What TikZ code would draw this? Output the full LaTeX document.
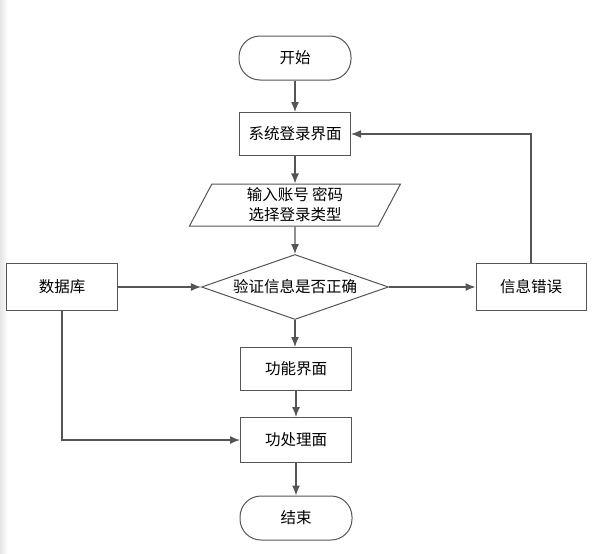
\documentclass[tikz,border=0pt]{standalone}
\usepackage{fontspec}
\newfontfamily\cjk{Noto Sans CJK SC}
\usetikzlibrary{arrows.meta,shapes.geometric}
\definecolor{linea}{HTML}{555555}
\begin{document}
\begin{tikzpicture}[x=1pt,y=-1pt,line width=1.3pt,>={Latex[length=10pt,width=8pt]},
  caja/.style={draw=linea,line width=1pt,fill=white,inner sep=0pt,minimum width=111pt,minimum height=43pt,font=\cjk\fontsize{15.5}{20}\selectfont},
  terminal/.style={caja,rounded corners=21pt,minimum width=112pt,minimum height=44pt},
  datosio/.style={caja,trapezium,trapezium left angle=57,trapezium right angle=123,trapezium stretches body,minimum width=211pt,minimum height=42pt,align=center},
  decision/.style={caja,diamond,aspect=2.9,minimum width=187pt,minimum height=65pt},
  flecha/.style={->,draw=linea,color=linea}]
  \useasboundingbox (0,0) rectangle (592,554);
  \shade[left color=black!10,right color=white] (0,0) rectangle (8,554);
  % flujo principal
  \node[terminal] (inicio) at (295,58) {开始};
  \node[caja] (login) at (295,134) {系统登录界面};
  \node[datosio] (entrada) at (295,205) {输入账号 密码\\选择登录类型};
  \node[decision] (valida) at (295,287) {验证信息是否正确};
  \node[caja,minimum height=47pt] (datos) at (62,287) {数据库};
  \node[caja,minimum width=110pt,minimum height=47pt] (error) at (531,287) {信息错误};
  \node[caja] (funcion) at (296,369) {功能界面};
  \node[caja,minimum height=45pt] (proceso) at (296,440) {功处理面};
  \node[terminal] (fin) at (296,518) {结束};
  % flechas
  \draw[flecha] (inicio) -- (login);
  \draw[flecha] (login) -- (entrada);
  \draw[flecha] (entrada) -- (valida);
  \draw[flecha] (datos) -- (valida);
  \draw[flecha] (valida) -- (error);
  \draw[flecha] (valida.south) -- (valida.south |- funcion.north);
  \draw[flecha] (funcion.south) -- (funcion.south |- proceso.north);
  \draw[flecha] (proceso) -- (fin);
  % retornos
  \draw[flecha] (datos.south) |- (proceso.west);
  \draw[flecha] (error.north) |- (login.east);
\end{tikzpicture}
\end{document}
